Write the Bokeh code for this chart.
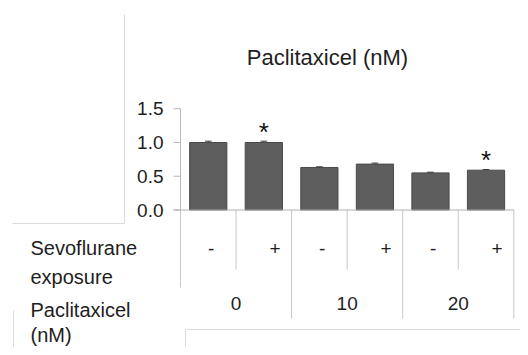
from bokeh.plotting import figure
from bokeh.models import Range1d, ColumnDataSource
from bokeh.core.properties import value
from bokeh.embed import file_html
from bokeh.resources import INLINE

# ---- data ----
exposure = ["-", "+", "-", "+", "-", "+"]
paclitaxel_doses = ["0", "10", "20"]
values = [1.0, 1.0, 0.63, 0.68, 0.55, 0.59]
errors = [0.02, 0.02, 0.01, 0.015, 0.01, 0.01]
significant = [False, True, False, False, False, True]
y_ticks = [0.0, 0.5, 1.0, 1.5]
y_tick_labels = ["0.0", "0.5", "1.0", "1.5"]
title_text = "Paclitaxicel (nM)"
row_label_1 = ["Sevoflurane", "exposure"]
row_label_2 = ["Paclitaxicel", "(nM)"]

# ---- layout (pixel geometry of the page) ----
W, H = 520, 347
AX_PX = 180.0      # x of the y axis
UNIT_PX = 55.55    # pixels per category
ZERO_PX = 209.5    # y of value 0
K_PX = 67.5        # pixels per value unit

def px2x(px):
    return (px - AX_PX) / UNIT_PX

def px2y(py):
    return (ZERO_PX - py) / K_PX

FONT = value("Liberation Sans")
TXT = "#1e1e1e"
GRID = "#c8c8c8"
DECOR = "#dcdcdc"

p = figure(width=W, height=H, output_backend="svg", toolbar_location=None,
           x_range=Range1d(px2x(0), px2x(W)), y_range=Range1d(px2y(H), px2y(0)),
           min_border=0, min_border_left=0, min_border_right=0,
           min_border_top=0, min_border_bottom=0)
p.axis.visible = False
p.grid.visible = False
p.outline_line_color = None
p.background_fill_color = "white"
p.border_fill_color = "white"

n = len(values)
centers = [i + 0.5 for i in range(n)]

# decorative slide lines
p.segment(x0=[px2x(124), px2x(12), px2x(13), px2x(185), px2x(185)],
          y0=[px2y(14), px2y(223), px2y(310), px2y(329), px2y(329)],
          x1=[px2x(124), px2x(124), px2x(13), px2x(530), px2x(185)],
          y1=[px2y(223), px2y(223), px2y(360), px2y(329), px2y(360)],
          line_color=DECOR, line_width=1)

# table dividers
div_x = [0, 1, 2, 3, 4, 5, 6]
div_len = [px2y(287), px2y(269), px2y(318), px2y(269), px2y(318), px2y(269), px2y(318)]
p.segment(x0=div_x, y0=[0] * len(div_x), x1=div_x, y1=div_len,
          line_color=GRID, line_width=1)

# bars
src = ColumnDataSource(dict(x=centers, top=values))
p.vbar(x="x", top="top", bottom=0, width=0.67, source=src,
       fill_color="#5e5e5e", line_color="#4a4a4a", line_width=1)

# error bars
p.segment(x0=centers, y0=values, x1=centers,
          y1=[v + e for v, e in zip(values, errors)], line_color="#3a3a3a", line_width=1)
p.segment(x0=[c - 0.06 for c in centers], y0=[v + e for v, e in zip(values, errors)],
          x1=[c + 0.06 for c in centers], y1=[v + e for v, e in zip(values, errors)],
          line_color="#3a3a3a", line_width=1)

# significance asterisks
sx = [c for c, s in zip(centers, significant) if s]
sy = [v + e + 0.17 for v, e, s in zip(values, errors, significant) if s]
p.text(x=sx, y=sy, text=["*"] * len(sx), text_font=FONT, text_font_size="26px",
       text_color="#111111", text_align="center", text_baseline="alphabetic",
       y_offset=2)

# baseline and y axis
p.segment(x0=[px2x(173)], y0=[0], x1=[6], y1=[0], line_color="#b0b0b0", line_width=1)
p.segment(x0=[0], y0=[y_ticks[0]], x1=[0], y1=[y_ticks[-1]], line_color="#b8b8b8", line_width=1)
p.segment(x0=[px2x(173)] * len(y_ticks), y0=y_ticks, x1=[0] * len(y_ticks), y1=y_ticks,
          line_color="#b8b8b8", line_width=1)
p.text(x=[px2x(163)] * len(y_ticks), y=y_ticks, text=y_tick_labels, text_font=FONT,
       text_font_size="19px", text_color=TXT, text_align="right", text_baseline="middle")

# title
p.text(x=[px2x(327)], y=[px2y(57)], text=[title_text], text_font=FONT,
       text_font_size="22px", text_color=TXT, text_align="center", text_baseline="middle")

# sevoflurane row
ex_x = [i + (0.55 if s == "-" else 0.70) for i, s in enumerate(exposure)]
p.text(x=ex_x, y=[px2y(248)] * n, text=exposure, text_font=FONT, text_font_size="19px",
       text_color=TXT, text_align="center", text_baseline="middle")

# paclitaxel row
gx = [2 * g + 1 for g in range(len(paclitaxel_doses))]
p.text(x=gx, y=[px2y(303)] * len(gx), text=paclitaxel_doses, text_font=FONT,
       text_font_size="19px", text_color=TXT, text_align="center", text_baseline="middle")

# row labels
p.text(x=[px2x(30)] * 4, y=[px2y(247), px2y(276), px2y(309), px2y(334)],
       text=row_label_1 + row_label_2, text_font=FONT, text_font_size="20px",
       text_color=TXT, text_align="left", text_baseline="middle")

open("out.html", "w").write(file_html(p, INLINE))
